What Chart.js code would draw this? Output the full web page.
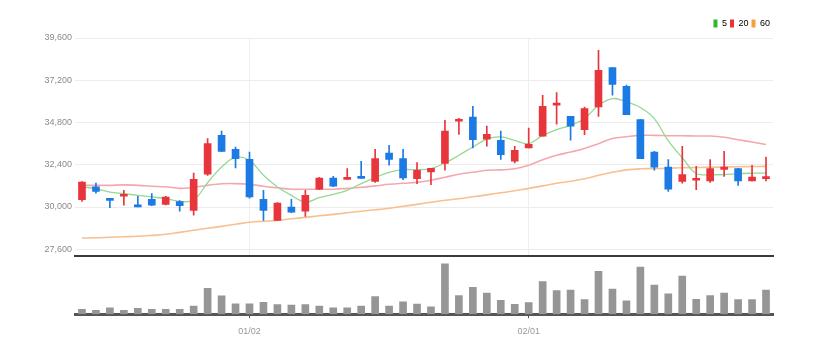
<!DOCTYPE html>
<html><head><meta charset="utf-8">
<script src="https://cdn.jsdelivr.net/npm/chart.js@4.4.1/dist/chart.umd.min.js"></script>
<style>
html,body{margin:0;padding:0;background:#fff;}
#wrap{position:relative;width:826px;height:354px;overflow:hidden;}
#pc{position:absolute;left:0;top:0;}
#vc{position:absolute;left:0;top:256px;}
</style></head><body>
<div id="wrap">
<canvas id="pc" width="826" height="264"></canvas>
<canvas id="vc" width="826" height="98"></canvas>
</div>
<script>
const categories = ['12/12','12/13','12/14','12/15','12/18','12/19','12/20','12/21','12/22','12/26','12/27','12/28',
 '01/02','01/03','01/04','01/05','01/08','01/09','01/10','01/11','01/12','01/15','01/16','01/17','01/18','01/19',
 '01/22','01/23','01/24','01/25','01/26','01/29','02/01','02/02','02/05','02/06','02/07','02/08','02/13','02/14',
 '02/15','02/16','02/19','02/20','02/21','02/22','02/23','02/26','02/27','02/28'];
const tickLabels = ['01/02','02/01'];
const priceTicks = [27600,30000,32400,34800,37200,39600];

const openP  = [30420,31140,30450,30610,30110,30440,30150,30310,29810,31860,34070,33280,32710,30440,29240,30000,29770,31010,31650,31570,
 31740,31460,33070,32750,31610,31990,32470,34870,35110,33850,33790,32600,33350,34030,35780,35150,34400,35680,37920,36860,
 34970,33120,32270,31460,31520,31480,32140,32180,31480,31610];
const closeP = [31420,30890,30380,30720,30010,30110,30570,30080,31570,33600,33160,32750,30570,29810,30230,29700,30660,31650,31190,31620,
 31630,32750,32710,31650,32090,32200,34320,34970,33830,34130,32980,33220,33560,35720,35910,34590,35590,37770,36970,35250,
 32750,32270,31010,31840,31610,32180,32270,31480,31700,31700];
const highP  = [31450,31360,30450,30950,30610,30760,30600,30360,31930,33890,34320,33410,33120,30950,30250,30440,30950,31680,31740,32180,
 32600,33280,33500,33280,32520,32200,34930,35040,35720,34590,34320,33450,34490,36350,36500,35150,35680,38900,37920,36920,
 34970,33160,32690,33450,32310,32690,33160,32200,32370,32840];
const lowP   = [30320,30780,29960,30100,30000,30080,30120,29770,29530,31800,33150,32220,30500,29240,29240,29680,29470,30990,31150,31570,
 31630,31400,32370,31560,31330,31270,32090,34130,33350,33450,32710,32500,33350,34030,34700,33790,34110,35150,36350,35250,
 32750,32090,30890,31360,30990,31400,31740,31230,31480,31480];
const ma5  = [31140,31040,30850,30760,30660,30570,30480,30320,30400,31380,32270,32820,32650,31800,31140,30660,30280,30530,30720,30950,
 31330,31670,31970,32120,32120,32180,32500,32940,33410,33860,33980,33790,33600,34070,34400,34640,35020,35780,36160,35970,
 35650,35020,33750,32800,31900,31840,31840,31900,31920,31920];
const ma20 = [31230,31230,31230,31260,31230,31180,31150,31060,31120,31230,31320,31330,31290,31180,31090,31010,31010,31010,31010,31060,
 31120,31200,31290,31350,31400,31520,31690,31860,31970,32090,32110,32170,32370,32680,32940,33120,33320,33600,33890,33990,
 34070,34070,34050,34050,34030,34030,33960,33820,33690,33550];
const ma60 = [28240,28250,28280,28310,28340,28390,28450,28560,28680,28790,28900,29020,29130,29190,29240,29330,29410,29500,29580,29670,
 29760,29840,29930,30040,30150,30270,30380,30470,30580,30690,30810,30920,31060,31200,31350,31460,31600,31800,31970,32110,
 32170,32180,32200,32230,32240,32260,32270,32290,32300,32310];
const volume = [50,40,67,40,60,50,50,50,83,267,190,107,107,123,100,93,100,83,67,67,
 83,183,83,127,105,77,520,193,277,217,143,103,120,337,243,250,150,443,260,137,
 487,300,210,393,153,193,217,150,150,250];

const UP = '#e8353b', DOWN = '#1c7ae4';
const candleColor = openP.map((o,i) => closeP[i] >= o ? UP : DOWN);
const FONT = "'Liberation Sans Narrow','Liberation Sans',Arial,sans-serif";

Chart.defaults.animation = false;
Chart.defaults.font.family = FONT;

new Chart(document.getElementById('pc'), {
  type: 'bar',
  data: {
    labels: categories,
    datasets: [
      { type:'bar', label:'body', data: openP.map((o,i)=>[o, closeP[i]]), backgroundColor: candleColor,
        barThickness: 7, grouped:false, minBarLength: 2, order: 1 },
      { type:'bar', label:'wick', data: lowP.map((l,i)=>[l, highP[i]]), backgroundColor: candleColor,
        barThickness: 1, grouped:false, order: 2 },
      { type:'line', label:'5', data: ma5, borderColor:'#93d993', borderWidth:1.3, pointRadius:0, tension:0.4, order: 3 },
      { type:'line', label:'20', data: ma20, borderColor:'#f5a7ae', borderWidth:1.6, pointRadius:0, tension:0.4, order: 4 },
      { type:'line', label:'60', data: ma60, borderColor:'#f8bf90', borderWidth:1.6, pointRadius:0, tension:0.4, order: 5 }
    ]
  },
  options: {
    responsive: false,
    layout: { padding: { left: 0, right: 53, top: 16, bottom: 2 } },
    plugins: {
      tooltip: { enabled: false },
      legend: {
        display: true, position: 'top', align: 'end',
        labels: {
          boxWidth: 4, boxHeight: 8, padding: 3, color: '#888',
          font: { size: 9, family: FONT },
          generateLabels: () => [
            { text:'5', fillStyle:'#2db82d', strokeStyle:'#2db82d', lineWidth:0, hidden:false, datasetIndex:2 },
            { text:'20', fillStyle:'#ee3333', strokeStyle:'#ee3333', lineWidth:0, hidden:false, datasetIndex:3 },
            { text:'60', fillStyle:'#f5a040', strokeStyle:'#f5a040', lineWidth:0, hidden:false, datasetIndex:4 }
          ]
        }
      }
    },
    scales: {
      x: {
        offset: true,
        afterFit: s => { s.height = 0; },
        grid: { display: true, drawOnChartArea: true, drawTicks: false, offset: false,
          color: ctx => tickLabels.includes(categories[ctx.index]) ? '#eeeeee' : 'rgba(0,0,0,0)' },
        ticks: { display: false },
        border: { display: true, color: '#3a3a3a', width: 2 }
      },
      y: {
        min: 27240, max: 39600,
        afterFit: s => { s.width = 75; },
        afterBuildTicks: s => { s.ticks = priceTicks.map(v => ({ value: v })); },
        ticks: { callback: v => Number(v).toLocaleString('en-US'), color: '#8a8a8a', font: { size: 9, family: FONT }, padding: 3 },
        grid: { color: '#ececec', drawTicks: false },
        border: { display: false }
      }
    }
  }
});

new Chart(document.getElementById('vc'), {
  type: 'bar',
  data: {
    labels: categories,
    datasets: [
      { label:'volume', data: volume, backgroundColor:'#969696', barThickness: 7 }
    ]
  },
  options: {
    responsive: false,
    layout: { padding: { left: 75, right: 53, top: 4, bottom: 9 } },
    plugins: { tooltip: { enabled:false }, legend: { display:false } },
    scales: {
      x: {
        offset: true,
        grid: { display: true, drawOnChartArea: false, drawTicks: true, tickLength: 4, offset: false,
          color: ctx => tickLabels.includes(categories[ctx.index]) ? '#555555' : 'rgba(0,0,0,0)' },
        ticks: { autoSkip: false, maxRotation: 0, padding: 8, color: '#999', font: { size: 9, family: FONT },
          callback: (v, i) => tickLabels.includes(categories[i]) ? categories[i] : '' },
        border: { display: true, color: '#555', width: 3 }
      },
      y: { display: false, min: 0, max: 560 }
    }
  }
});
</script>
</body></html>
